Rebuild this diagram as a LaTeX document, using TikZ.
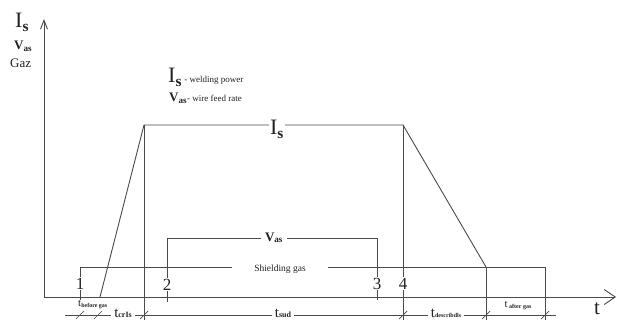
\documentclass[tikz,border=0pt]{standalone}
\usepackage{fontspec}
\setmainfont{Liberation Serif}
\usetikzlibrary{arrows.meta}
\definecolor{ln}{HTML}{4A4A4A}
\definecolor{tx}{HTML}{222222}
\newcommand{\fsz}[1]{\fontsize{#1}{#1}\selectfont}
\newcommand{\lowsub}[2]{\raisebox{-#1}{\bfseries #2}}
\tikzset{
  curve/.style={draw=ln, line width=0.9pt},
  lbl/.style={inner sep=1pt, text=tx, fill=white},
  plain/.style={inner sep=0pt, text=tx},
  slash/.style={draw=ln, line width=0.7pt},
}
\begin{document}
\begin{tikzpicture}[x=1pt,y=-1pt]
\useasboundingbox (0,0) rectangle (617,320);
% axes
\coordinate (O) at (44,297);
\coordinate (ytop) at (44,19);
\coordinate (xend) at (616,297);
\draw[curve,-{Straight Barb[length=9pt,width=7pt]}] (O) -- (ytop);
\draw[curve,-{Straight Barb[length=11pt,width=15pt]}] (O) -- (xend);
% axis labels
\node[plain,anchor=base west] (lIs) at (15,28) {\fsz{22}I\textsubscript{\textbf{s}}};
\node[plain,anchor=base west] (lVas) at (14,50) {\fsz{13}\textbf{V}\textsubscript{\textbf{as}}};
\node[plain,anchor=base west] (lGaz) at (10,68) {\fsz{13}Gaz};
\node[plain,anchor=base] (lt) at (597,314) {\fsz{21}t};
% legend
\node[plain,anchor=base west] (leg1) at (168,83) {\fsz{22}I\textsubscript{\textbf{s}}\fsz{9} - welding power};
\node[plain,anchor=base west] (leg2) at (169,102) {\fsz{13}\textbf{V}\textsubscript{\textbf{as}}\fsz{9}- wire feed rate};
% Is curve
\coordinate (a0) at (100,297);
\coordinate (a1) at (144,125);
\coordinate (a2) at (403,125);
\coordinate (a3) at (486,267);
\draw[curve] (a0) -- (a1) -- (a2) -- (a3);
\node[lbl,anchor=base] (Is) at (277,135) {\fsz{22}I\textsubscript{\textbf{s}}};
% verticals
\coordinate (b1) at (144,320);
\coordinate (b2) at (403,320);
\coordinate (b3) at (486,320);
\draw[curve] (a1) -- (b1);
\draw[curve] (a2) -- (b2);
\draw[curve] (a3) -- (b3);
% shielding gas
\coordinate (g0) at (80,307);
\coordinate (g1) at (80,267);
\coordinate (g2) at (545,267);
\coordinate (g3) at (545,320);
\draw[curve] (g0) -- (g1) -- (g2) -- (g3);
\node[lbl,inner xsep=22pt,anchor=base] (sg) at (280,271) {\fsz{9.5}Shielding gas};
% Vas
\coordinate (v0) at (167,302);
\coordinate (v1) at (167,238);
\coordinate (v2) at (377,238);
\coordinate (v3) at (377,300);
\draw[curve] (v0) -- (v1) -- (v2) -- (v3);
\node[lbl,inner xsep=4pt,anchor=base] (Vas) at (274,241) {\fsz{13}\textbf{V}\textsubscript{\textbf{as}}};
% digits
\node[lbl,anchor=base] (n1) at (80,289) {\fsz{17}1};
\node[lbl,anchor=base] (n2) at (167,290) {\fsz{17}2};
\node[lbl,anchor=base] (n3) at (377,289) {\fsz{17}3};
\node[lbl,anchor=base] (n4) at (403,289) {\fsz{17}4};
% dimension line
\coordinate (d0) at (65,315);
\coordinate (d1) at (556,315);
\draw[curve,line width=0.7pt] (d0) -- (d1);
\foreach \x in {80,98,144,403,486,545}{
  \draw[slash] (\x-4,319) -- (\x+4,311);
}
\node[lbl,anchor=base west,inner sep=0pt] (tb) at (78,306) {\fsz{11}t\lowsub{1.5pt}{\fsz{6}before gas}};
\node[lbl,anchor=base,inner xsep=3pt,inner ysep=0pt] (tc) at (123,317) {\fsz{15}t\lowsub{0.8pt}{\fsz{8}crIs}};
\node[lbl,anchor=base,inner xsep=3pt,inner ysep=0pt] (ts) at (283,317) {\fsz{15}t\lowsub{0.8pt}{\fsz{8}sud}};
\node[lbl,anchor=base,inner xsep=3pt,inner ysep=0pt] (td) at (446,317) {\fsz{15}t\lowsub{0.8pt}{\fsz{6}describdls}};
\node[plain,anchor=base] (ta) at (518,307) {\fsz{11}t\lowsub{1.5pt}{\fsz{6} after gas}};
\end{tikzpicture}
\end{document}
